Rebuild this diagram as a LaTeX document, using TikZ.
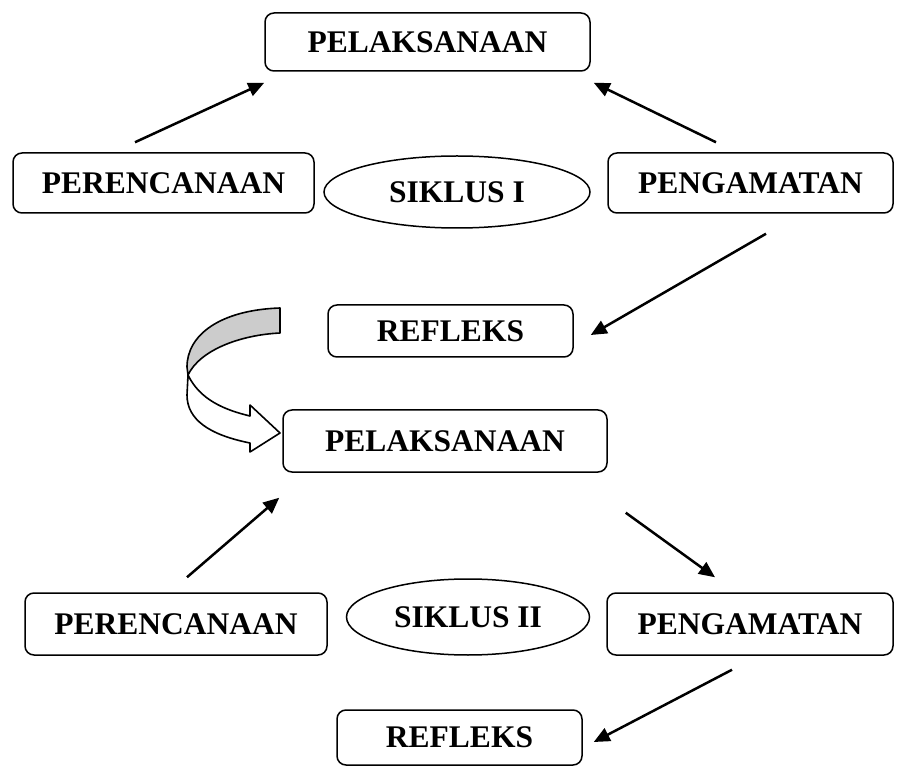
\documentclass[tikz,border=0pt]{standalone}
\usepackage{fontspec}
\setmainfont{Liberation Serif}
\usetikzlibrary{arrows.meta,shapes.geometric}

\begin{document}
\begin{tikzpicture}[x=1pt,y=-1pt,
  font=\fontsize{31.5}{36}\selectfont\bfseries,
  blk/.style={draw, line width=1.5pt, rounded corners=9pt, inner sep=0pt},
  ovl/.style={draw, line width=1.5pt, ellipse, inner sep=0pt},
  arr/.style={-{Triangle[length=16pt,width=14pt]}, line width=2.5pt},
  rib/.style={draw, line width=1.6pt, line join=round}]
\useasboundingbox (0,0) rectangle (903,767);
% siklus I
\node[blk, minimum width=325pt, minimum height=58pt] (pel1) at (427.5,42) {PELAKSANAAN};
\node[blk, minimum width=301pt, minimum height=60pt] (per1) at (163.5,183) {PERENCANAAN};
\node[ovl, minimum width=266pt, minimum height=72pt] (sik1) at (457,192) {SIKLUS I};
\node[blk, minimum width=285pt, minimum height=60pt] (peng1) at (750.5,183) {PENGAMATAN};
\node[blk, minimum width=245pt, minimum height=52pt] (ref1) at (450.5,331) {REFLEKS};
\draw[arr] ([xshift=-28.5pt,yshift=10pt]per1.north) -- ([yshift=-11pt]pel1.south west);
\draw[arr] ([xshift=-34.5pt,yshift=10pt]peng1.north) -- ([xshift=3pt,yshift=-11pt]pel1.south east);
\draw[arr] ([xshift=15.5pt,yshift=-20pt]peng1.south) -- ([xshift=17pt,yshift=-4pt]ref1.east);
% curved arrow to siklus II
\path[rib, fill=black!20] (280,308) -- (280,333)
  .. controls (240,335) and (200,350) .. (188,375)
  -- (187,367) .. controls (187,335) and (220,310) .. (280,308) -- cycle;
\path[rib, fill=white] (188,375) .. controls (200,400) and (225,410) .. (250,416)
  -- (250,405) -- (280,433) -- (250,452) -- (250,443)
  .. controls (210,435) and (187,420) .. (187,395) -- cycle;
% siklus II
\node[blk, minimum width=324pt, minimum height=62pt] (pel2) at (445,441) {PELAKSANAAN};
\node[blk, minimum width=302pt, minimum height=62pt] (per2) at (176,624) {PERENCANAAN};
\node[ovl, minimum width=243pt, minimum height=76pt] (sik2) at (468,617) {SIKLUS II};
\node[blk, minimum width=286pt, minimum height=62pt] (peng2) at (750,624) {PENGAMATAN};
\node[blk, minimum width=245pt, minimum height=55pt] (ref2) at (459.5,737.5) {REFLEKS};
\draw[arr] ([xshift=11pt,yshift=15pt]per2.north) -- ([xshift=-3pt,yshift=-25pt]pel2.south west);
\draw[arr] ([xshift=18pt,yshift=-40pt]pel2.south east) -- ([xshift=-35pt,yshift=15pt]peng2.north);
\draw[arr] ([xshift=-18pt,yshift=-14pt]peng2.south) -- ([xshift=11pt,yshift=-4.5pt]ref2.east);
\end{tikzpicture}
\end{document}
